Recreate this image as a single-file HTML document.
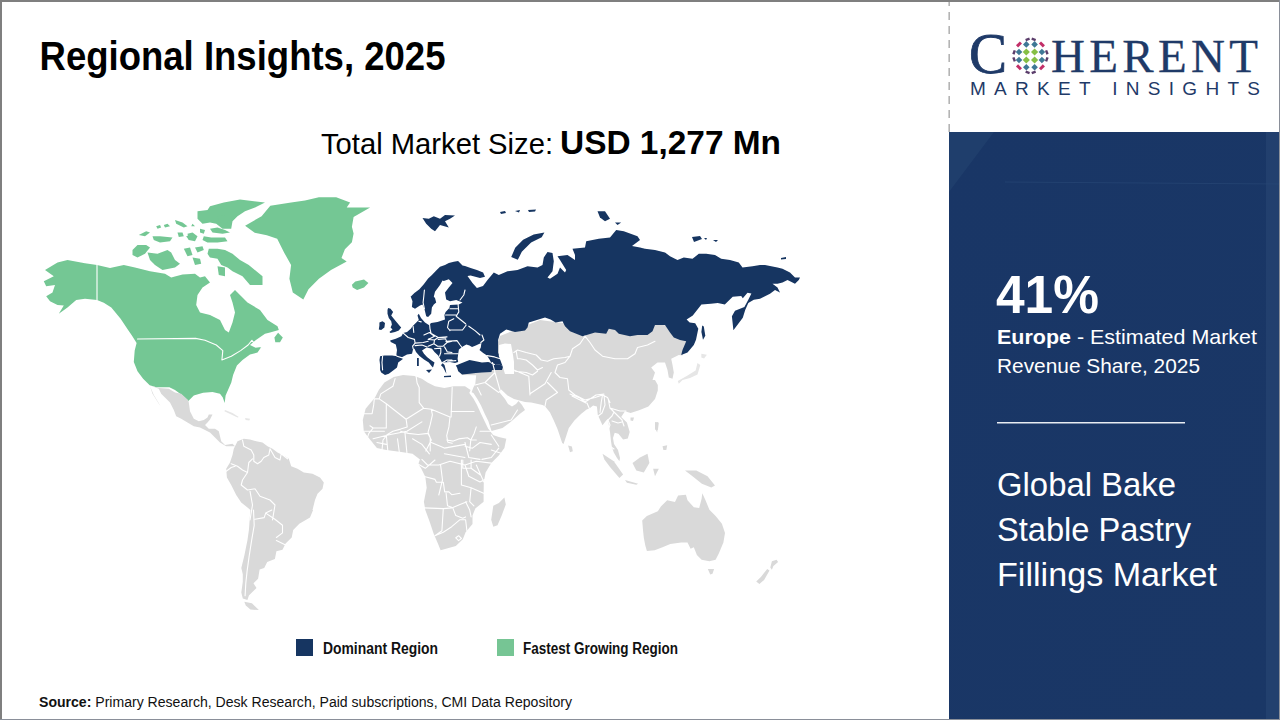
<!DOCTYPE html>
<html><head><meta charset="utf-8">
<style>
html,body{margin:0;padding:0;width:1280px;height:720px;overflow:hidden;background:#fff}
svg{display:block}
.g{fill:#74c794}.d{fill:#163561}.x{fill:#d9d9d9}.xl{fill:#e6e6e6}.w{fill:#fff}
text{font-family:"Liberation Sans",sans-serif}
</style></head>
<body>
<svg width="1280" height="720" viewBox="0 0 1280 720">
<defs>
<linearGradient id="pg" x1="0" y1="0" x2="1" y2="1">
<stop offset="0" stop-color="#193666"/>
<stop offset="1" stop-color="#1a3766"/>
</linearGradient>
</defs>
<rect x="0" y="0" width="1280" height="720" fill="#fff"/>
<!-- right panel -->
<rect x="949" y="132" width="330" height="587" fill="url(#pg)"/>
<rect x="1266" y="132" width="13" height="587" fill="#244270" opacity="0.8"/>
<path d="M949,132 L994,132 L949,192Z" fill="#1f3e6c"/>
<path d="M1005,182 L1279,184" stroke="#2a4a78" stroke-width="1" opacity="0.6"/>
<line x1="949.2" y1="0" x2="949.2" y2="132" stroke="#b4b4b4" stroke-width="1.6" stroke-dasharray="8,6" stroke-dashoffset="2"/>

<!-- MAP -->
<g id="map"><path class="x" d="M393.8,376.9 L403.1,375.0 L414.4,375.9 L421.9,378.8 L427.5,382.5 L435.0,386.3 L444.4,388.1 L453.8,386.3 L465.0,386.3 L470.6,390.0 L469.3,393.0 L473.4,398.4 L477.0,405.0 L480.9,413.4 L484.5,420.9 L488.1,428.4 L493.1,435.0 L498.8,436.9 L506.3,438.8 L504.4,448.1 L498.8,455.6 L491.3,463.1 L485.6,472.5 L483.8,481.9 L483.6,494.7 L483.6,501.7 L475.3,508.6 L472.5,515.6 L472.5,523.9 L465.6,532.2 L462.8,539.2 L455.8,546.1 L440.6,550.3 L437.8,543.3 L433.6,533.6 L429.4,521.1 L425.3,510.0 L423.9,501.7 L426.7,487.8 L425.3,476.7 L421.1,468.3 L418.3,464.2 L419.7,460.0 L420.0,459.4 L412.5,453.8 L401.3,451.9 L386.3,450.0 L376.9,448.1 L369.4,438.8 L363.8,431.3 L362.8,420.0 L365.6,408.8 L375.0,397.5 L378.8,390.0 L384.4,382.5Z"/>
<path class="x" d="M504.4,497.5 L505.8,504.4 L501.7,515.6 L497.5,525.3 L493.3,526.7 L491.2,519.7 L493.3,505.8 L498.9,503.1Z"/>
<path class="x" d="M476.2,375.3 L475.3,383.8 L473.4,387.5 L471.6,392.2 L473.4,393.1 L477.2,398.8 L480.9,405.3 L484.7,413.8 L488.4,421.2 L491.5,431.0 L502.5,428.0 L511.2,421.5 L520.0,413.8 L525.0,410.0 L522.0,405.0 L518.5,401.0 L516.0,404.0 L512.0,406.5 L508.0,404.0 L505.0,399.0 L500.0,393.0 L498.8,391.2 L501.2,389.5 L507.5,395.5 L514.0,399.0 L519.5,400.5 L525.0,402.0 L531.2,402.5 L542.5,405.0 L545.0,406.2 L550.0,412.5 L553.8,420.6 L557.5,429.0 L562.2,443.1 L563.6,444.0 L568.8,428.1 L574.4,420.6 L581.0,414.0 L586.6,409.4 L589.4,408.4 L593.1,405.6 L596.9,406.6 L597.8,415.0 L602.5,425.3 L606.2,420.6 L608.1,418.8 L608.1,420.6 L610.0,431.9 L611.0,441.2 L611.9,446.9 L613.8,452.5 L617.0,458.0 L619.4,461.2 L620.0,458.0 L618.0,450.0 L614.0,444.0 L613.0,438.0 L614.7,432.8 L618.4,433.8 L623.1,439.4 L627.8,438.4 L629.7,431.9 L626.9,422.5 L621.2,416.9 L625.0,411.2 L630.6,413.1 L639.1,410.3 L648.4,406.6 L655.0,399.0 L657.8,390.6 L657.8,385.0 L655.0,380.0 L652.5,380.0 L655.0,372.5 L651.2,367.5 L657.5,362.5 L665.0,362.5 L667.5,370.0 L668.8,377.5 L672.5,378.8 L673.8,372.5 L672.5,365.0 L671.2,358.8 L678.8,355.0 L682.5,355.6 L686.2,342.5 L682.5,327.5 L652.5,323.8 L596.2,327.5 L540.0,320.0 L500.0,336.0 L497.0,345.0 L497.0,368.0 L470.0,368.0 L460.0,370.0 L462.0,375.0Z"/>
<path class="x" d="M630.5,417.5 L634.0,417.5 L633.0,421.0 L630.5,420.5Z"/>
<path class="x" d="M568.1,445.6 L571.9,446.6 L572.8,451.3 L570.0,452.2Z"/>
<path class="x" d="M632.5,463.1 L640.0,457.5 L647.5,453.8 L649.4,463.1 L643.8,472.5 L636.3,470.6Z"/>
<path class="x" d="M602.5,453.8 L613.8,461.3 L623.1,474.4 L619.4,478.1 L610.0,466.9 L604.4,459.4Z"/>
<path class="x" d="M625.0,480.0 L638.1,483.8 L636.3,484.7 L626.9,482.8Z"/>
<path class="x" d="M653.1,468.8 L658.8,468.8 L655.0,476.3Z"/>
<path class="x" d="M685.0,470.6 L696.3,470.6 L707.5,476.3 L715.0,485.6 L711.3,487.5 L701.9,483.8 L692.5,476.3Z"/>
<path class="x" d="M655.0,421.9 L658.8,422.8 L657.8,430.3 L655.0,429.4Z"/>
<path class="x" d="M662.5,446.3 L667.2,445.3 L666.3,450.0 L663.4,450.0Z"/>
<path class="x" d="M656.3,422.2 L658.1,422.2 L657.2,432.5 L655.3,428.8Z"/>
<path class="xl" d="M697.5,363.1 L700.3,365.0 L697.5,374.4 L690.0,378.1 L682.5,380.0 L678.8,383.8 L677.8,380.9 L686.3,376.3 L695.6,370.6Z"/>
<path class="xl" d="M701.3,353.8 L706.9,354.7 L704.1,358.4 L701.3,357.5Z"/>
<path class="x" d="M642.2,520.6 L646.9,515.9 L657.8,511.2 L660.9,506.6 L667.2,500.3 L675.0,501.9 L678.1,495.6 L685.9,494.8 L687.5,500.3 L693.8,507.3 L699.2,508.1 L701.6,498.8 L702.3,493.3 L705.5,500.3 L709.4,509.7 L715.6,515.9 L721.9,523.8 L725.0,533.1 L723.4,542.5 L718.8,553.4 L715.6,559.7 L709.4,561.2 L701.6,559.7 L696.9,555.0 L693.8,547.2 L690.6,548.8 L687.5,542.5 L681.2,542.5 L670.3,544.1 L662.5,547.2 L654.7,550.3 L646.9,551.1 L645.3,545.6 L643.8,537.8 L643.0,530.0Z"/>
<path class="x" d="M707.8,569.1 L714.1,569.1 L712.5,573.8 L710.2,574.5Z"/>
<path class="x" d="M756.2,581.6 L760.9,576.9 L767.2,569.1 L769.5,570.6 L764.1,580.0 L759.4,583.9Z"/>
<path class="x" d="M771.9,561.2 L776.6,559.7 L778.1,562.0 L773.4,565.9 L771.9,569.8 L770.3,567.5Z"/>
<path class="xl" d="M225.0,410.0 L232.5,413.1 L238.8,416.9 L237.5,417.5 L231.2,414.4 L224.4,411.2Z"/>
<path class="xl" d="M245.0,418.1 L250.0,418.8 L249.4,420.6 L245.6,420.0Z"/>
<path class="x" d="M233.8,448.8 L237.5,441.2 L243.8,438.8 L250.0,439.4 L256.2,441.2 L262.5,442.5 L267.5,446.2 L272.5,448.8 L277.5,452.5 L285.0,456.2 L288.8,458.8 L291.2,466.2 L297.5,468.8 L303.8,472.5 L312.5,473.8 L320.0,477.5 L323.8,482.5 L322.5,488.8 L317.5,493.8 L315.0,500.0 L312.5,510.0 L313.1,510.0 L310.0,517.6 L299.3,523.8 L293.2,529.9 L291.7,537.5 L285.6,543.6 L282.5,549.7 L276.4,551.3 L274.9,558.9 L267.2,561.9 L264.2,568.1 L259.6,569.6 L258.1,578.8 L253.5,583.3 L256.5,587.9 L251.9,592.5 L248.9,595.6 L247.4,600.1 L242.8,598.6 L241.3,592.5 L242.8,581.8 L242.8,574.2 L241.3,568.1 L244.3,555.8 L247.4,540.6 L248.9,529.9 L250.4,510.0 L247.5,507.5 L241.2,502.5 L236.2,495.0 L231.2,485.0 L226.9,477.5 L226.2,468.8 L230.0,462.5 L232.5,455.0Z"/>
<path class="x" d="M244.3,601.7 L251.9,603.2 L258.8,610.1 L250.4,609.6 L245.8,605.5Z"/>
<path class="g" d="M45.0,270.0 L57.5,262.5 L67.5,260.0 L85.0,263.2 L97.0,265.0 L110.0,268.0 L123.8,265.0 L135.0,267.5 L150.0,271.2 L165.0,273.8 L171.2,277.5 L182.5,274.5 L195.0,273.8 L200.0,277.5 L205.0,276.2 L210.0,282.5 L202.5,287.5 L197.5,295.0 L196.2,305.0 L200.0,312.5 L210.0,315.0 L220.0,320.0 L225.0,330.0 L228.8,332.5 L232.5,322.5 L235.0,312.5 L232.5,302.5 L230.0,295.0 L235.0,290.0 L242.5,297.5 L247.5,302.5 L260.0,310.0 L267.5,320.0 L277.5,326.2 L278.8,330.0 L270.0,332.5 L265.0,333.8 L255.6,340.3 L250.0,345.0 L255.6,347.8 L261.3,346.9 L257.5,352.5 L250.0,354.4 L242.5,360.0 L236.9,365.6 L233.1,375.0 L231.3,382.5 L225.6,395.6 L224.7,403.1 L222.8,397.5 L220.0,393.8 L212.5,391.9 L203.1,392.8 L193.8,395.6 L188.1,401.3 L182.5,395.6 L175.0,390.0 L169.4,387.2 L156.3,387.2 L149.7,385.3 L143.1,378.8 L137.5,371.3 L133.8,361.9 L134.7,350.6 L136.6,343.1 L131.9,335.6 L128.1,330.0 L120.6,318.8 L111.3,307.5 L103.8,302.8 L97.0,300.0 L85.0,298.8 L76.2,300.0 L67.5,307.5 L58.8,313.8 L63.8,305.5 L57.5,305.0 L50.0,301.2 L46.2,296.2 L52.5,292.5 L55.0,285.0 L46.2,286.2 L43.8,281.2 L53.8,276.2Z"/>
<path class="g" d="M245.1,225.8 L261.6,216.2 L270.3,205.8 L291.1,202.4 L305.0,200.6 L318.9,197.2 L336.2,197.2 L350.1,202.4 L346.7,207.6 L370.1,207.6 L353.6,217.1 L351.9,226.7 L353.6,233.6 L351.9,242.3 L344.9,249.2 L341.5,257.9 L346.7,261.4 L331.0,270.1 L318.9,278.8 L308.5,289.2 L303.3,299.6 L292.8,292.6 L289.4,278.8 L291.1,264.9 L284.2,252.7 L277.2,238.8 L266.8,235.3 L254.7,232.7Z"/>
<path class="g" d="M351.9,284.8 L355.3,281.4 L364.0,279.6 L368.4,283.1 L364.0,287.4 L357.1,290.0 L352.7,287.4Z"/>
<path class="g" d="M132.5,250.0 L137.5,245.0 L146.2,245.0 L150.0,247.5 L145.0,253.8 L137.5,257.5 L132.5,255.0Z"/>
<path class="g" d="M147.5,252.5 L157.5,253.8 L167.5,250.0 L171.2,252.5 L175.0,260.0 L180.0,263.8 L175.0,267.5 L162.5,270.0 L155.0,265.0 L150.0,260.0Z"/>
<path class="g" d="M197.5,211.2 L207.5,210.0 L210.0,206.2 L223.8,202.5 L240.0,199.4 L265.0,202.5 L255.0,207.5 L245.0,211.2 L237.5,216.2 L232.5,221.2 L231.2,228.8 L222.5,228.8 L216.2,223.8 L210.0,222.5 L202.5,223.8 L197.5,218.8Z"/>
<path class="g" d="M203.8,236.2 L211.2,237.5 L225.0,237.5 L227.5,241.2 L217.5,242.5 L207.5,242.5 L202.5,240.0Z"/>
<path class="g" d="M175.0,220.0 L182.5,222.5 L187.5,226.2 L183.8,227.5 L176.2,223.8Z"/>
<path class="g" d="M152.5,236.2 L160.0,236.2 L172.5,237.5 L170.0,241.2 L160.0,242.5 L153.8,240.0Z"/>
<path class="g" d="M138.8,235.0 L146.2,231.2 L150.0,232.5 L145.0,236.2Z"/>
<path class="g" d="M186.2,236.2 L190.0,235.0 L188.8,240.0Z"/>
<path class="g" d="M192.5,223.8 L195.0,226.2 L191.2,226.2Z"/>
<path class="g" d="M183.8,248.8 L190.0,247.5 L192.5,255.0 L187.5,256.2Z"/>
<path class="g" d="M195.0,247.5 L202.5,246.2 L203.8,250.0 L197.5,252.5Z"/>
<path class="g" d="M192.5,257.5 L200.0,258.8 L201.2,263.8 L195.0,265.0Z"/>
<path class="g" d="M208.8,248.8 L217.5,248.8 L225.0,250.0 L232.5,253.8 L240.0,260.0 L248.8,265.0 L262.5,276.2 L262.5,285.0 L250.0,285.0 L242.5,276.2 L232.5,271.2 L227.5,267.5 L221.2,265.0 L217.5,258.8 L210.0,257.5 L207.5,253.8Z"/>
<path class="g" d="M217.5,266.2 L225.0,267.5 L225.0,276.2 L218.8,275.0Z"/>
<path class="g" d="M210.0,228.8 L217.5,227.5 L225.0,230.0 L230.0,232.5 L222.5,233.8 L212.5,232.5Z"/>
<path class="g" d="M187.5,233.8 L192.5,232.5 L197.5,236.2 L195.0,241.2 L188.8,240.0Z"/>
<path class="g" d="M163.8,225.0 L167.5,223.8 L170.0,226.2 L165.0,227.5Z"/>
<path class="g" d="M156.2,226.2 L160.0,225.0 L161.2,227.5 L157.5,228.8Z"/>
<path class="g" d="M177.5,232.5 L182.5,232.5 L183.8,236.2 L178.8,236.9Z"/>
<path class="g" d="M217.5,216.2 L225.0,215.0 L230.0,220.0 L225.0,223.8 L218.8,221.2Z"/>
<path class="g" d="M200.0,228.8 L205.0,230.0 L203.8,233.8 L200.0,232.5Z"/>
<path class="g" d="M274.4,337.5 L278.1,332.8 L282.8,337.5 L280.0,342.2 L275.3,342.2Z"/>
<path class="x" d="M150.0,385.6 L158.8,388.1 L168.8,388.8 L175.0,392.5 L181.2,393.8 L188.1,400.0 L188.8,402.5 L190.0,411.2 L193.8,418.8 L198.8,421.2 L203.8,420.0 L207.5,417.5 L208.8,414.4 L212.5,414.4 L210.0,419.4 L207.5,422.5 L205.0,425.0 L208.8,428.8 L215.0,428.8 L218.8,431.2 L220.0,436.2 L221.2,441.2 L225.0,445.0 L232.5,443.8 L235.0,446.2 L226.2,446.2 L220.0,442.5 L215.0,437.5 L210.0,432.5 L205.0,430.0 L200.0,427.5 L193.8,426.2 L187.5,422.5 L181.2,418.8 L176.2,416.2 L173.8,410.0 L170.0,402.5 L161.2,393.8 L158.8,388.8Z"/>
<path class="x" d="M150.0,386.2 L153.8,395.0 L160.6,406.2 L158.8,403.8 L152.5,393.8Z"/>
<path class="d" d="M410.6,296.8 L414.4,293.0 L419.4,289.3 L423.8,284.2 L428.1,278.6 L431.9,274.9 L436.2,270.5 L440.0,266.8 L445.0,264.9 L448.8,263.0 L453.8,261.8 L458.1,261.1 L462.5,265.5 L465.0,266.1 L470.6,268.0 L476.9,269.9 L483.1,272.4 L485.0,276.8 L480.0,278.0 L470.6,275.5 L467.5,276.1 L472.5,283.0 L476.9,288.0 L483.0,286.0 L487.5,280.0 L493.8,272.5 L498.8,275.0 L507.5,271.2 L517.5,270.0 L527.5,266.2 L537.5,267.5 L542.5,265.0 L543.8,257.5 L547.5,251.9 L552.5,253.1 L553.8,261.2 L552.5,271.2 L547.5,277.5 L550.0,278.8 L557.5,273.8 L560.0,267.5 L565.0,272.5 L566.2,270.0 L560.0,260.0 L557.5,256.2 L567.5,255.0 L575.0,260.0 L575.0,255.0 L572.5,248.8 L585.0,247.5 L586.2,241.2 L598.8,238.8 L610.0,237.5 L616.2,230.0 L623.8,231.2 L637.5,236.2 L640.0,240.0 L632.0,246.0 L640.0,247.5 L645.0,248.8 L655.0,250.0 L665.0,252.5 L670.0,256.2 L677.5,260.0 L683.8,257.5 L692.5,258.8 L698.8,253.8 L706.2,253.8 L715.0,255.0 L721.2,258.8 L730.0,260.0 L738.8,262.5 L742.5,267.5 L752.5,266.2 L760.0,265.0 L765.0,265.0 L777.5,267.5 L782.5,268.8 L790.0,272.5 L795.0,277.5 L800.0,277.5 L798.8,280.0 L795.0,283.8 L787.5,280.0 L782.5,282.5 L777.5,283.8 L772.5,283.8 L777.5,287.5 L780.0,292.5 L775.0,290.0 L770.0,293.8 L760.0,298.8 L753.8,299.8 L748.3,303.0 L745.2,310.0 L742.8,317.8 L738.1,324.0 L733.4,330.3 L731.9,316.2 L735.0,310.8 L744.4,306.9 L748.3,299.8 L751.4,293.6 L747.5,292.8 L742.8,298.3 L741.2,296.0 L732.7,296.7 L724.8,304.5 L717.8,303.0 L710.8,303.8 L701.4,304.5 L692.8,315.5 L686.6,319.4 L689.7,322.5 L695.2,323.3 L698.3,328.8 L696.0,339.7 L693.8,345.0 L687.5,352.5 L681.2,355.0 L682.5,350.0 L686.2,341.2 L680.0,340.0 L673.8,337.5 L670.0,332.5 L665.0,325.0 L655.0,325.0 L652.5,331.2 L647.5,335.0 L637.5,335.0 L630.0,336.2 L618.8,333.8 L615.0,330.0 L608.8,328.8 L606.2,333.8 L595.0,332.5 L582.5,336.2 L570.0,331.2 L565.0,326.2 L562.5,321.2 L555.6,322.5 L550.6,319.4 L545.0,317.5 L536.9,320.0 L528.8,322.5 L527.5,327.5 L525.0,330.6 L515.0,331.9 L506.2,329.4 L500.0,333.8 L498.1,340.0 L498.1,343.8 L498.1,352.5 L500.1,357.5 L502.6,361.2 L503.2,366.2 L499.5,364.4 L494.5,365.0 L491.4,363.1 L489.5,359.4 L487.0,355.6 L483.2,353.1 L479.5,350.0 L480.8,347.5 L481.4,343.1 L479.5,343.8 L475.8,345.6 L472.0,346.9 L469.5,345.6 L466.4,344.4 L463.2,346.2 L458.9,349.4 L458.2,353.8 L457.6,358.8 L458.2,361.9 L455.0,363.0 L450.0,362.0 L442.0,362.5 L444.5,365.0 L445.8,370.0 L446.4,373.8 L443.2,367.5 L440.8,365.0 L442.6,363.8 L440.8,360.0 L438.2,355.6 L434.5,351.9 L432.0,348.8 L427.0,347.5 L425.8,348.1 L422.0,350.6 L424.0,353.8 L427.0,356.9 L430.8,360.0 L434.5,362.5 L433.9,364.5 L433.0,367.5 L431.5,366.0 L428.8,362.5 L424.0,359.4 L419.5,356.0 L416.0,352.0 L414.5,348.8 L413.2,348.8 L412.0,353.8 L407.0,354.4 L401.4,357.5 L403.2,358.8 L398.2,362.5 L397.0,367.5 L393.8,370.0 L388.8,373.8 L385.0,375.0 L381.2,372.5 L380.1,370.0 L380.1,365.0 L379.5,360.0 L380.1,356.2 L384.5,355.6 L392.0,355.6 L397.0,356.2 L396.4,354.4 L397.0,350.0 L395.8,344.4 L390.8,341.9 L390.1,340.6 L395.8,338.8 L401.4,336.2 L403.2,333.1 L407.0,331.9 L410.8,328.8 L412.5,326.2 L418.8,320.0 L417.5,315.6 L418.8,313.8 L421.0,318.0 L425.0,322.5 L428.8,325.0 L431.2,323.1 L437.5,321.9 L445.0,319.4 L444.4,315.0 L445.6,311.9 L449.4,308.1 L450.0,305.0 L458.8,304.4 L462.5,302.5 L456.2,300.0 L450.0,301.2 L446.2,299.4 L445.0,292.5 L448.8,287.4 L452.5,283.0 L448.8,279.2 L443.8,281.1 L442.5,280.5 L440.0,284.9 L435.0,291.8 L433.8,296.8 L435.0,298.1 L436.2,302.5 L433.8,304.4 L431.9,307.5 L431.2,313.8 L428.1,316.9 L426.2,316.2 L425.0,311.2 L424.4,308.8 L422.5,304.4 L420.0,305.6 L415.0,308.8 L411.9,306.9 L412.5,301.2 L410.6,296.2Z"/>
<path class="d" d="M455.8,365.6 L460.1,363.8 L464.5,361.9 L469.5,360.0 L475.8,361.2 L482.0,362.5 L488.2,361.9 L491.4,363.1 L494.5,365.0 L499.5,364.4 L503.2,366.2 L502.0,370.0 L492.0,370.0 L491.4,371.9 L482.0,372.5 L475.8,373.1 L469.5,373.8 L462.0,374.4 L458.2,371.2 L457.0,367.5Z"/>
<path class="w" d="M499.0,345.0 L505.0,343.5 L511.0,344.0 L513.0,355.0 L514.0,362.0 L514.0,374.0 L505.0,374.0 L502.5,366.0 L498.8,356.0Z"/>
<path class="d" d="M388.1,308.1 L390.6,308.8 L393.1,311.9 L391.2,315.6 L393.8,318.8 L396.9,322.5 L399.4,325.6 L401.2,327.5 L398.8,330.6 L395.0,331.9 L390.6,333.1 L389.4,331.9 L392.5,329.4 L390.6,327.5 L391.9,324.4 L391.2,321.2 L388.8,318.1 L387.5,313.8 L387.5,310.0Z"/>
<path class="d" d="M379.4,322.5 L382.5,321.2 L385.0,323.1 L384.4,327.5 L381.2,330.0 L378.8,329.4 L379.4,325.6Z"/>
<path class="d" d="M426.0,370.0 L432.0,369.5 L429.0,373.0Z"/>
<path class="d" d="M417.0,358.0 L418.8,358.0 L418.8,366.0 L417.0,366.0Z"/>
<path class="d" d="M444.0,376.0 L451.0,375.5 L451.0,377.0 L444.0,377.2Z"/>
<path class="d" d="M422.5,218.1 L428.8,218.8 L433.8,216.2 L440.0,218.8 L445.0,215.0 L455.0,215.6 L450.0,218.8 L445.0,221.2 L448.8,227.5 L440.0,225.0 L435.0,231.2 L431.2,228.8 L426.2,223.8Z"/>
<path class="d" d="M511.2,257.1 L515.2,247.8 L523.1,239.8 L533.7,234.5 L544.4,232.4 L541.7,237.2 L531.1,242.5 L521.8,251.8 L517.8,259.8Z"/>
<path class="d" d="M500.0,212.0 L505.0,211.0 L506.0,213.0 L501.0,214.0Z"/>
<path class="d" d="M515.0,211.0 L520.0,210.0 L519.0,212.5Z"/>
<path class="d" d="M528.0,210.0 L536.0,209.5 L535.0,211.5 L529.0,212.0Z"/>
<path class="d" d="M597.5,211.2 L605.0,211.2 L610.0,218.8 L605.0,221.2 L600.0,217.5Z"/>
<path class="d" d="M615.0,222.5 L621.2,222.5 L617.5,225.0Z"/>
<path class="d" d="M692.0,237.0 L700.0,236.0 L702.0,239.0 L694.0,242.0Z"/>
<path class="d" d="M704.0,238.0 L707.0,238.0 L706.0,240.0Z"/>
<path class="d" d="M713.0,240.0 L718.0,240.0 L716.0,242.0Z"/>
<path class="d" d="M781.0,258.0 L786.0,257.0 L786.0,259.0 L781.0,259.5Z"/>
<path class="d" d="M702.2,325.6 L703.8,326.4 L705.3,335.8 L703.0,339.7 L701.4,331.9Z"/>
<path d="M395.1,378.6 L392.9,386.3 L380.8,393.9 L379.2,398.9 M379.2,398.9 L374.3,398.9 L373.7,404.9 L372.1,413.7 L363.3,413.7 M379.2,398.9 L386.3,403.8 L386.3,428.0 L373.2,428.0 L369.9,425.8 M386.3,403.8 L406.1,419.2 L423.6,408.2 M423.6,408.2 L419.2,402.7 L419.2,387.4 L417.1,383.0 L416.0,375.3 M423.6,408.2 L431.3,409.3 L450.0,417.0 M452.2,387.4 L451.1,417.0 M451.1,411.5 L474.1,411.5 M431.3,409.3 L432.4,414.8 L430.2,424.7 L428.0,432.3 L430.2,437.8 L430.2,451.0 M450.0,417.0 L448.9,426.9 L446.7,435.6 L447.8,442.2 L452.2,443.3 M406.1,419.2 L407.2,426.9 L400.6,429.1 L392.9,431.2 L387.4,434.5 M400.6,431.2 L408.3,433.4 L418.2,434.5 L428.0,433.4 M387.4,434.5 L383.0,440.0 L381.9,451.0 M373.2,428.0 L368.8,433.4 L366.6,440.0 M428.0,433.4 L431.3,440.0 L425.8,451.0 M446.7,440.0 L453.3,441.1 L458.7,438.9 L467.5,437.8 L470.8,440.0 L476.3,440.0 M476.3,426.9 L474.1,433.4 L470.8,440.0 L469.7,451.0 M425.3,476.7 L435.0,479.4 L436.4,482.2 L443.3,482.2 L444.7,491.9 L448.9,491.9 L451.7,494.7 L460.0,493.3 M446.1,493.3 L447.5,505.8 L451.7,507.2 M423.9,507.9 L443.3,508.6 L451.7,507.9 M443.3,508.6 L441.9,530.8 L435.0,535.7 M453.1,508.6 L455.8,515.6 L462.8,518.3 L465.6,516.9 M435.0,535.7 L443.3,532.2 L451.7,526.7 L460.0,519.7 L465.6,519.7 L466.9,530.8 M451.7,507.9 L460.0,504.4 L466.9,501.7 M465.6,501.7 L469.7,510.0 L471.1,516.9 M461.4,485.0 L471.1,487.8 L469.7,501.7 L473.9,505.8 M471.1,487.8 L483.6,493.3 M462.8,468.3 L471.1,468.3 L480.8,475.3 M462.8,460.0 L462.8,468.3 M471.1,460.0 L471.1,468.3 M461.4,460.0 L461.4,485.0 M455.8,537.8 L458.6,535.7 L461.4,538.5 L458.6,540.6 L455.8,537.8 M418.3,464.2 L425.3,468.3 L435.0,460.0 M421.9,459.4 L427.5,465.0 L438.8,465.0 L450.0,461.3 L465.0,465.0 L476.3,461.3 L491.3,463.1 M440.6,465.0 L442.5,480.0 L438.8,495.0 M465.0,465.0 L468.8,476.3 L480.0,481.9 L491.3,476.3 M491.3,450.0 L502.5,453.8 L498.8,457.5 M465.0,446.3 L472.5,448.1 L480.0,442.5 L491.3,444.4 M242.5,440.0 L243.8,446.2 L251.2,450.0 L253.8,455.0 L253.8,461.2 L257.5,463.8 L261.2,461.2 L263.8,457.5 L268.8,455.0 L270.0,448.8 M270.0,448.8 L275.0,457.5 L280.0,460.0 L281.2,453.8 M281.2,453.8 L287.5,458.8 M231.2,463.8 L237.5,466.2 L242.5,470.0 L247.5,472.5 L248.8,462.5 L252.5,458.8 M226.2,471.2 L231.2,467.5 L235.0,466.2 M247.5,472.5 L242.5,480.0 L241.2,485.0 L247.5,490.0 L255.0,488.8 M255.0,488.8 L260.0,496.2 L270.0,500.0 L275.0,505.0 L272.5,520.0 M250.0,491.2 L252.5,505.0 L250.0,520.0 M253.5,510.0 L254.2,525.3 L251.6,540.6 L249.2,555.8 L247.1,571.1 L245.8,583.3 L245.1,595.6 M255.0,519.2 L264.2,517.6 L265.7,513.1 L274.9,519.2 L282.5,525.3 L282.5,532.9 L276.4,537.5 M276.4,540.6 L285.6,545.1 M265.7,513.1 L271.8,510.0 M513.8,352.5 L517.5,350.0 L526.2,352.5 L536.2,355.0 L541.2,360.0 L547.5,361.2 L553.8,358.8 L565.0,357.5 L570.0,356.2 L572.5,348.8 L580.0,343.8 L585.0,336.2 M516.2,351.2 L517.5,358.8 L520.0,358.8 L526.2,360.0 L532.5,365.0 L537.5,370.0 L542.5,367.5 M515.0,371.2 L526.2,372.5 L532.5,375.0 L537.5,371.2 M585.0,336.2 L590.0,342.5 L595.0,350.0 L602.5,356.2 L615.0,358.8 L627.5,358.8 L635.0,353.8 L637.5,347.5 L647.5,345.0 L655.0,341.2 M570.0,356.2 L565.0,362.5 L557.5,365.0 L555.0,372.5 L560.0,377.5 L567.5,378.8 M567.5,378.8 L568.8,390.0 L575.0,395.0 L585.0,400.0 L595.0,397.5 L602.5,395.0 L607.5,397.5 L610.0,402.5 M602.5,395.0 L601.2,402.5 L600.0,412.5 M475.0,385.0 L485.0,382.5 L495.0,372.5 M495.0,372.5 L500.0,390.0 M485.0,382.5 L498.8,392.5 M491.2,425.0 L511.2,420.0 L517.5,410.0 M513.8,370.0 L528.8,376.2 L530.0,395.0 M530.0,393.8 L545.0,383.8 L551.2,372.5 M547.5,382.5 L557.5,392.5 L546.2,400.0 L545.0,406.2 M495.0,372.5 L492.5,362.5 M477.5,387.5 L481.2,395.0 M424.4,308.8 L423.1,302.5 L423.8,296.2 L424.4,290.0 M465.0,290.0 L463.8,295.0 L460.0,300.0 M450.0,308.8 L457.5,308.8 M445.6,315.0 L456.2,315.0 M458.1,304.4 L458.8,311.9 L456.2,316.2 M453.8,318.8 L448.8,321.2 M448.8,321.2 L447.5,327.5 L450.0,330.6 M450.0,330.0 L462.5,330.0 L466.2,325.0 M456.2,316.2 L465.6,323.8 M468.8,326.2 L475.0,330.6 L480.0,335.0 M429.4,322.5 L430.0,328.8 L431.2,333.8 M418.8,321.2 L421.2,321.9 M413.1,326.2 L413.8,332.5 M403.2,333.1 L408.2,337.5 L414.5,339.4 L415.1,343.1 M415.1,343.1 L412.6,346.2 L413.2,348.8 M397.0,356.2 L403.2,358.1 M382.6,356.2 L382.0,362.5 L382.6,370.0 M415.1,343.1 L423.2,342.5 L428.2,341.2 M415.1,345.6 L422.0,345.0 L427.0,346.9 M423.9,335.0 L429.5,332.5 L434.5,336.2 L428.2,339.4 M428.2,339.4 L434.5,340.0 L438.2,337.5 L445.8,337.5 M429.5,332.5 L438.2,337.5 L447.0,336.9 M434.5,340.0 L433.9,343.8 L428.2,346.2 M438.2,339.4 L445.8,338.8 M433.9,343.8 L437.6,346.2 L442.6,346.2 M445.8,339.4 L447.0,342.5 L443.2,346.2 M447.0,342.5 L452.0,341.2 M434.5,348.8 L440.8,348.1 L440.8,352.5 L439.5,356.2 M444.5,346.9 L447.0,351.2 M447.0,351.9 L452.0,352.5 M442.6,362.5 L447.0,360.0 L452.0,360.0 M445.8,341.2 L457.0,340.6 L460.1,345.0 L462.0,347.5 M444.5,353.8 L458.2,353.8 M447.6,361.2 L455.8,360.6 M482.0,335.0 L483.9,340.0 L480.8,342.5 M487.0,355.6 L494.5,356.9 L500.1,358.8 M491.4,363.1 L494.5,364.4 M137.5,339.0 L195.6,338.4 L205.0,340.3 L216.3,345.0 L222.8,350.6 L221.9,360.0 L231.3,356.3 L240.6,350.6 L248.1,345.0 L251.9,340.3 L255.6,345.0 L261.3,346.9 M97.0,265.0 L97.0,300.0 M570.0,394.0 L580.0,398.0 L585.0,402.0 L590.0,399.0 L596.0,395.0 L604.0,394.0 M572.0,396.0 L586.0,403.0 M587.0,403.0 L590.0,410.0 M604.0,395.0 L605.0,405.0 L602.0,413.0 L597.0,417.0 M608.0,398.0 L610.0,408.0 L614.0,412.0 L612.0,416.0 L608.0,420.0 L610.0,425.0 L608.0,430.0 M614.0,412.0 L618.0,416.0 L622.0,420.0 L624.0,426.0 M612.0,421.0 L618.0,423.0 L622.0,422.0 M610.0,408.0 L620.0,411.0 L626.0,411.0 M611.0,447.0 L614.0,449.0 M363.8,431.3 L384.4,431.3 M373.1,438.8 L388.1,435.0 L406.9,431.3 L421.9,421.9 M386.3,435.0 L388.1,453.8 M397.5,438.8 L399.4,452.8 M405.0,433.1 L406.9,452.8 M421.9,444.4 L429.4,453.8 M431.3,442.5 L444.4,448.1 L465.0,444.4 M465.0,442.5 L468.8,457.5 L480.0,459.4 M444.4,453.8 L465.0,457.5 M480.0,431.3 L491.3,431.3 M491.3,435.0 L498.8,446.3 M481.9,459.4 L491.3,457.5 L498.8,448.1 M476.3,465.0 L483.8,481.9 M376.9,442.5 L386.3,444.4 M412.5,438.8 L421.9,444.4" fill="none" stroke="#fff" stroke-width="1.1" stroke-linejoin="round" stroke-linecap="round"/></g><!--endmap-->

<!-- title texts -->
<text x="39.5" y="70" font-size="41" font-weight="bold" fill="#000" textLength="406" lengthAdjust="spacingAndGlyphs">Regional Insights, 2025</text>
<text x="321" y="154" font-size="30" fill="#000" textLength="232" lengthAdjust="spacingAndGlyphs">Total Market Size:</text>
<text x="560" y="154" font-size="32.7" font-weight="bold" fill="#000" textLength="221" lengthAdjust="spacingAndGlyphs">USD 1,277 Mn</text>

<!-- legend -->
<rect x="296" y="639" width="17" height="17" fill="#163561"/>
<text x="323" y="653.5" font-size="16" font-weight="bold" fill="#111" textLength="115" lengthAdjust="spacingAndGlyphs">Dominant Region</text>
<rect x="497" y="639" width="17" height="17" fill="#76c594"/>
<text x="523" y="653.5" font-size="16" font-weight="bold" fill="#111" textLength="155" lengthAdjust="spacingAndGlyphs">Fastest Growing Region</text>

<!-- source -->
<text x="39" y="706.7" font-size="14" fill="#111" textLength="533" lengthAdjust="spacingAndGlyphs"><tspan font-weight="bold">Source:</tspan> Primary Research, Desk Research, Paid subscriptions, CMI Data Repository</text>

<!-- right panel text -->
<text x="996" y="313" font-size="53.5" font-weight="bold" fill="#fff" textLength="103" lengthAdjust="spacingAndGlyphs">41%</text>
<text x="997" y="343.6" font-size="21" fill="#fff" textLength="260" lengthAdjust="spacingAndGlyphs"><tspan font-weight="bold">Europe</tspan> - Estimated Market</text>
<text x="997" y="373.2" font-size="21" fill="#fff" textLength="203" lengthAdjust="spacingAndGlyphs">Revenue Share, 2025</text>
<rect x="997" y="422" width="188" height="1.5" fill="#e8ecf2"/>
<text x="997" y="495.8" font-size="32.7" fill="#fff" textLength="179" lengthAdjust="spacingAndGlyphs">Global Bake</text>
<text x="997" y="540.6" font-size="32.7" fill="#fff" textLength="194" lengthAdjust="spacingAndGlyphs">Stable Pastry</text>
<text x="997" y="586.3" font-size="32.7" fill="#fff" textLength="220" lengthAdjust="spacingAndGlyphs">Fillings Market</text>

<!-- logo -->
<g id="logo">
<text x="969" y="73" style="font-family:'Liberation Serif',serif" font-size="57" fill="#1f3a68" stroke="#1f3a68" stroke-width="0.8">C</text>
<text x="1051" y="72.3" style="font-family:'Liberation Serif',serif" font-size="47" fill="#1f3a68" stroke="#1f3a68" stroke-width="0.3" textLength="207" lengthAdjust="spacing">HERENT</text>
<text x="970" y="94.7" font-size="19" fill="#1f3a68" textLength="290" lengthAdjust="spacing">MARKET INSIGHTS</text>
<rect x="1016.2" y="42.9" width="5.5" height="3.0" fill="#c22f68" transform="rotate(-45 1019.0 44.4)"/>
<path d="M1026.3,41.1 L1029.6,44.4 L1026.3,47.7 L1023.0,44.4Z" fill="#3f7896"/>
<path d="M1034.6,41.1 L1037.9,44.4 L1034.6,47.7 L1031.3,44.4Z" fill="#3f7896"/>
<rect x="1039.2" y="42.9" width="5.5" height="3.0" fill="#c22f68" transform="rotate(45 1041.9 44.4)"/>
<path d="M1019.0,48.7 L1022.3,52.0 L1019.0,55.3 L1015.7,52.0Z" fill="#3f7896"/>
<path d="M1026.3,48.4 L1029.9,52.0 L1026.3,55.6 L1022.7,52.0Z" fill="#86bf45"/>
<path d="M1034.6,48.4 L1038.2,52.0 L1034.6,55.6 L1031.0,52.0Z" fill="#86bf45"/>
<path d="M1041.9,48.7 L1045.2,52.0 L1041.9,55.3 L1038.6,52.0Z" fill="#3f7896"/>
<path d="M1019.0,56.7 L1022.3,60.0 L1019.0,63.3 L1015.7,60.0Z" fill="#3f7896"/>
<path d="M1026.3,56.4 L1029.9,60.0 L1026.3,63.6 L1022.7,60.0Z" fill="#86bf45"/>
<path d="M1034.6,56.4 L1038.2,60.0 L1034.6,63.6 L1031.0,60.0Z" fill="#86bf45"/>
<path d="M1041.9,56.7 L1045.2,60.0 L1041.9,63.3 L1038.6,60.0Z" fill="#3f7896"/>
<rect x="1016.2" y="65.8" width="5.5" height="3.0" fill="#c22f68" transform="rotate(45 1019.0 67.3)"/>
<path d="M1026.3,64.0 L1029.6,67.3 L1026.3,70.6 L1023.0,67.3Z" fill="#3f7896"/>
<path d="M1034.6,64.0 L1037.9,67.3 L1034.6,70.6 L1031.3,67.3Z" fill="#3f7896"/>
<rect x="1039.2" y="65.8" width="5.5" height="3.0" fill="#c22f68" transform="rotate(-45 1041.9 67.3)"/>
<rect x="1025.5" y="38.2" width="4.2" height="2.4" fill="#5b3d6b" transform="rotate(-20 1027.6 39.4)"/>
<rect x="1025.5" y="71.1" width="4.2" height="2.4" fill="#5b3d6b" transform="rotate(20 1027.6 72.3)"/>
<rect x="1031.6" y="38.2" width="4.2" height="2.4" fill="#5b3d6b" transform="rotate(20 1033.7 39.4)"/>
<rect x="1031.6" y="71.1" width="4.2" height="2.4" fill="#5b3d6b" transform="rotate(-20 1033.7 72.3)"/>
<rect x="1012.9" y="50.2" width="2.4" height="4.2" fill="#5b3d6b" transform="rotate(20 1014.1 52.3)"/>
<rect x="1045.6" y="50.2" width="2.4" height="4.2" fill="#5b3d6b" transform="rotate(-20 1046.8 52.3)"/>
<rect x="1012.9" y="57.3" width="2.4" height="4.2" fill="#5b3d6b" transform="rotate(-20 1014.1 59.4)"/>
<rect x="1045.6" y="57.3" width="2.4" height="4.2" fill="#5b3d6b" transform="rotate(20 1046.8 59.4)"/>
</g><!--endlogo-->

<!-- border -->
<rect x="0" y="0" width="1280" height="2" fill="#7f7f7f"/><rect x="0" y="0" width="2" height="720" fill="#7f7f7f"/><rect x="1279" y="0" width="1" height="720" fill="#8a8f99"/><rect x="0" y="719" width="1280" height="1" fill="#8a8f99"/>
</svg>
</body></html>
